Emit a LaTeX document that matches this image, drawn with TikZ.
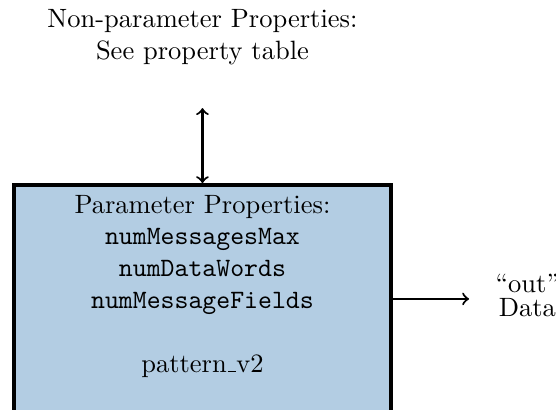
\documentclass[tikz,border=0pt]{standalone}
\definecolor{boxblue}{RGB}{179,205,227}
\newcommand\lowrule{\leavevmode\kern.06em\vbox{\hrule width.3em}}
\begin{document}
\begin{tikzpicture}[x=1pt,y=1pt,
  blockbox/.style={draw=black, line width=1.6pt, fill=boxblue, minimum width=142.2pt, minimum height=110pt, inner sep=0pt},
  txt/.style={align=center, inner sep=0pt},
  conn/.style={thick}]
\useasboundingbox (0,0) rectangle (209.8,-154.7);
\clip (0,0) rectangle (209.8,-154.7);
\node[blockbox, anchor=north] (blk) at (76.4,-69.1) {};
\node[txt, anchor=north] (params) at (76.4,-73.4) {Parameter Properties:\\ \texttt{numMessagesMax}\\ \texttt{numDataWords}\\ \texttt{numMessageFields}\\[12pt] pattern\lowrule v2};
\node[txt, anchor=north] (np) at (76.4,-3.5) {Non-parameter Properties:\\ See property table};
\coordinate (npend) at (76.4,-40.8);
\draw[conn,<->] (npend) -- (blk.north);
\coordinate (outend) at (177,-112.8);
\draw[conn,->] (blk.east |- outend) -- (outend);
\node[txt, anchor=north] (out) at (199,-103.2) {``out''\\[-3pt] Data};
\end{tikzpicture}
\end{document}
